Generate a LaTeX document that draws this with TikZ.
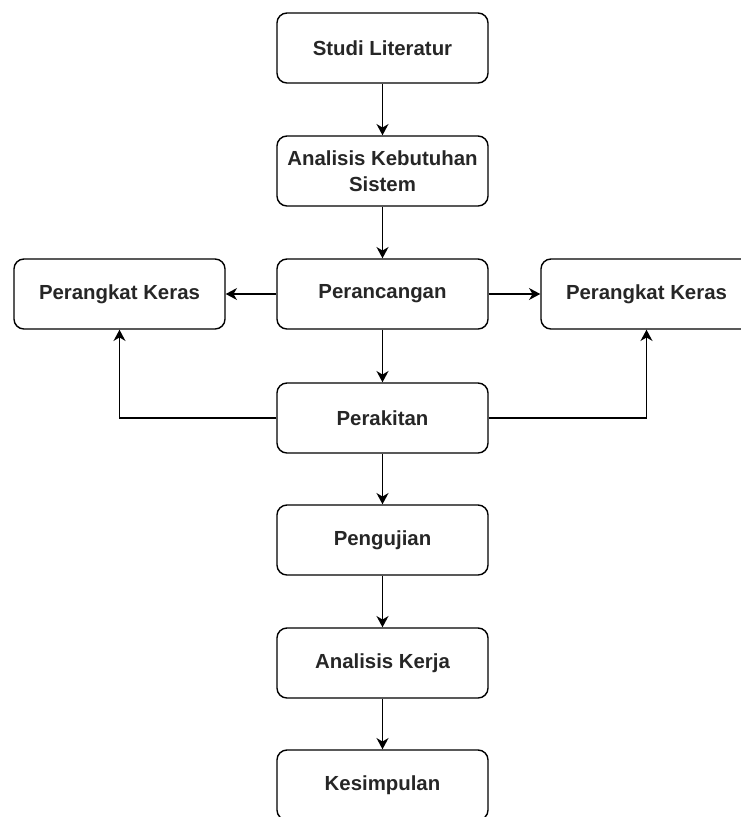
\documentclass[tikz,border=0pt]{standalone}
\usepackage{fontspec}
\setmainfont{Liberation Sans}
\usetikzlibrary{arrows.meta}
\begin{document}
\begin{tikzpicture}[x=0.025cm, y=-0.025cm,
    tahap/.style={draw, line width=1pt, rounded corners=0.25cm, minimum width=5.275cm, minimum height=1.75cm,
      align=center, font=\fontsize{14.5}{18.5}\selectfont\bfseries, text=black!85},
    panah/.style={-{Stealth[length=8pt, width=8.5pt, inset=2.5pt]}, line width=1pt}]
  \clip (0,0) rectangle (741,817);
  \useasboundingbox (0,0) rectangle (741,817);

  % main flow
  \node[tahap] (studi) at (382.5,48) {Studi Literatur};
  \node[tahap] (analisis) at (382.5,171) {Analisis Kebutuhan\\Sistem};
  \node[tahap] (rancang) at (382.5,294) {Perancangan};
  \node[tahap] (rakit) at (382.5,418) {Perakitan};
  \node[tahap] (uji) at (382.5,540) {Pengujian};
  \node[tahap] (kerja) at (382.5,663) {Analisis Kerja};
  \node[tahap] (simpul) at (382.5,785) {Kesimpulan};

  % side boxes
  \node[tahap] (kerasKiri) at (119.5,294) {Perangkat Keras};
  \node[tahap] (kerasKanan) at (646.5,294) {Perangkat Keras};

  \draw[panah] (studi) -- (analisis);
  \draw[panah] (analisis) -- (rancang);
  \draw[panah] (rancang) -- (rakit);
  \draw[panah] (rakit) -- (uji);
  \draw[panah] (uji) -- (kerja);
  \draw[panah] (kerja) -- (simpul);

  \draw[panah] (rancang) -- (kerasKiri);
  \draw[panah] (rancang) -- (kerasKanan);
  \draw[panah] (rakit.west) -| (kerasKiri.south);
  \draw[panah] (rakit.east) -| (kerasKanan.south);
\end{tikzpicture}
\end{document}
